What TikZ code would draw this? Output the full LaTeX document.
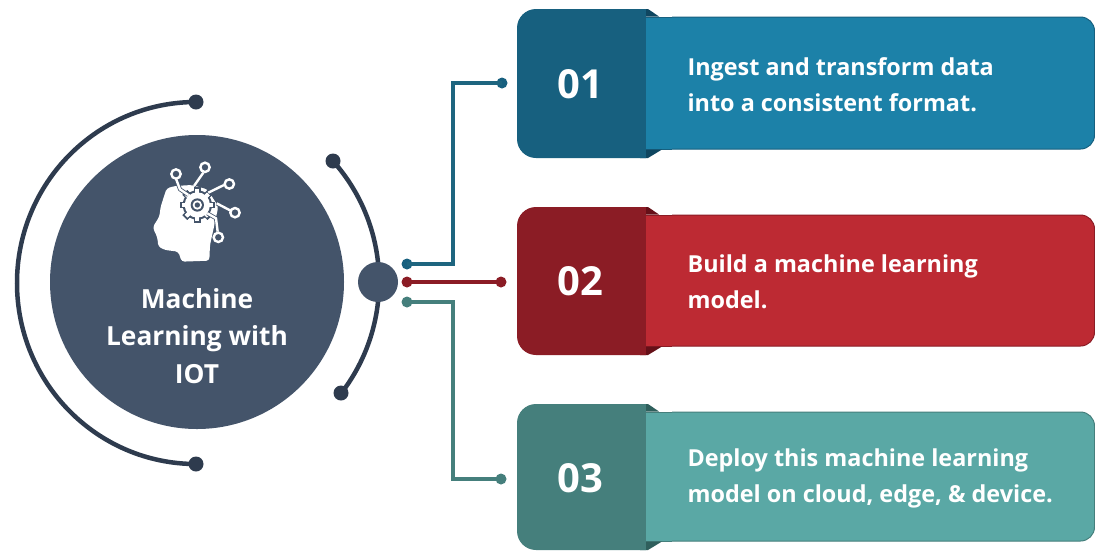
\documentclass[tikz,border=0pt]{standalone}
\usepackage{fontspec}
\setmainfont{Open Sans}
\definecolor{slate}{HTML}{44546A}
\definecolor{arcc}{HTML}{2E3B4E}
\definecolor{bluedark}{HTML}{17607F}
\definecolor{bluelight}{HTML}{1C81A8}
\definecolor{bluefold}{HTML}{0F4660}
\definecolor{reddark}{HTML}{8B1C25}
\definecolor{redlight}{HTML}{BD2A33}
\definecolor{redfold}{HTML}{651018}
\definecolor{teadark}{HTML}{457F7C}
\definecolor{tealight}{HTML}{5AA8A5}
\definecolor{teafold}{HTML}{2F5F5C}
\tikzset{
  px/.style={x=1pt,y=-1pt},
  dotn/.style={circle,inner sep=0pt,minimum size=#1},
  arcline/.style={draw=arcc,line width=4.5pt},
  conn/.style={line width=3.6pt},
  numtxt/.style={text=white,font=\fontsize{40}{44}\selectfont\bfseries},
  bodytxt/.style={text=white,anchor=west,align=left,font=\fontsize{23.4}{36}\selectfont\bfseries},
  titletxt/.style={text=white,align=center,font=\fontsize{26.3}{37.5}\selectfont\bfseries},
  wire/.style={draw=white,line width=2.4pt},
}
\newcommand{\panel}[5]{% top, bottom, dark, light, fold
  \fill[#5] (640,#1) -- (648,#1) -- (659,#1+8) -- (640,#1+8) -- cycle;
  \fill[#5] (640,#2) -- (648,#2) -- (662,#2-9) -- (640,#2-9) -- cycle;
  \draw[#3,line width=1pt,fill=#4,rounded corners=14pt] (630,#1+8) rectangle (1094.5,#2-9);
  \fill[#3,rounded corners=19pt] (517,#1) rectangle (670,#2);
  \fill[#4] (646,#1+8.5) rectangle (672,#2-9.5);
  \fill[white] (646,#1-1) rectangle (672,#1+7.5);
  \fill[white] (646,#2+1) rectangle (672,#2-8.5);
  \fill[#5] (646,#1) -- (648,#1) -- (659,#1+7.5) -- (646,#1+7.5) -- cycle;
  \fill[#5] (646,#2) -- (648,#2) -- (662,#2-8.5) -- (646,#2-8.5) -- cycle;
  \draw[#3,line width=1pt] (659,#1+8) -- (672,#1+8);
  \draw[#3,line width=1pt] (662,#2-9) -- (672,#2-9);
}
\begin{document}
\begin{tikzpicture}[px]
\useasboundingbox (0,0) rectangle (1095,550);
\fill[white] (0,0) rectangle (1095,550);
% arcs
\draw[arcline] (196,102) arc[start angle=-90,end angle=-270,x radius=179,y radius=181];
\draw[arcline] (333,161) arc[start angle=-41.7,end angle=37.6,radius=182];
\node[dotn=15pt,fill=arcc] (arcA) at (196,102) {};
\node[dotn=15pt,fill=arcc] (arcB) at (196,464) {};
\node[dotn=15pt,fill=arcc] (arcC) at (333,161) {};
\node[dotn=15pt,fill=arcc] (arcD) at (341,393) {};
\node[dotn=294pt,fill=slate] (main) at (197,282) {};
\node[dotn=40pt,fill=slate] (hub) at (378,282) {};
% icon
\begin{scope}[shift={(120,150)},x=0.3333pt,y=-0.3333pt]
  \fill[white,rounded corners=3pt] (140,115) -- (165,108) -- (215,105) -- (262,118) -- (295,170) -- (282,230) -- (270,285) -- (268,332) -- (185,335) -- (175,305) -- (135,300) -- (115,290) -- (112,262) -- (98,232) -- (118,200) -- (122,170) -- (135,130) -- cycle;
  \foreach \a in {0,45,...,315}{
    \fill[slate,rotate around={\a:(232,165)}] (222,112) rectangle (242,218);
  }
  \fill[slate] (232,165) circle[radius=44];
  \foreach \a in {0,45,...,315}{
    \fill[white,rotate around={\a:(232,165)}] (226,118) rectangle (238,212);
  }
  \fill[white] (232,165) circle[radius=38];
  \fill[slate] (232,165) circle[radius=20];
  \fill[white] (232,165) circle[radius=14];
  \fill[slate] (232,165) circle[radius=8];
  \draw[slate,line width=4pt] (168,86) -- (180,118) -- (205,135);
  \draw[slate,line width=4pt] (250,68) -- (222,108);
  \draw[slate,line width=4pt] (312,105) -- (265,128);
  \draw[slate,line width=4pt] (332,182) -- (290,160);
  \draw[slate,line width=4pt] (293,245) -- (288,205) -- (262,190);
  \draw[wire] (168,86) -- (180,118) -- (205,135);
  \draw[wire] (250,68) -- (222,108);
  \draw[wire] (312,105) -- (265,128);
  \draw[wire] (332,182) -- (290,160);
  \draw[wire] (293,245) -- (288,205) -- (262,190);
  \foreach \p in {(168,72),(255,52),(328,102),(345,188),(295,262)}{
    \draw[white,line width=2.4pt] \p circle[radius=14];
  }
\end{scope}
\node[titletxt] (title) at (197,336) {Machine\\Learning with\\IOT};
% panels
\panel{9}{158}{bluedark}{bluelight}{bluefold}
\panel{207}{355}{reddark}{redlight}{redfold}
\panel{404}{550}{teadark}{tealight}{teafold}
\node[numtxt] (n1) at (580,84) {01};
\node[numtxt] (n2) at (580,281) {02};
\node[numtxt] (n3) at (580,478) {03};
\node[bodytxt] (t1) at (684,85) {Ingest and transform data\\into a consistent format.};
\node[bodytxt] (t2) at (684,282) {Build a machine learning\\model.};
\node[bodytxt] (t3) at (684,478) {Deploy this machine learning\\model on cloud, edge, \& device.};
% connectors
\node[dotn=11pt,fill=bluedark] (d1a) at (407,264) {};
\node[dotn=11pt,fill=bluedark] (d1b) at (502,83) {};
\node[dotn=11pt,fill=reddark] (d2a) at (407,282) {};
\node[dotn=11pt,fill=reddark] (d2b) at (501,282) {};
\node[dotn=11pt,fill=teadark] (d3a) at (407,302) {};
\node[dotn=11pt,fill=teadark] (d3b) at (501,479) {};
\draw[conn,draw=bluedark!85!teadark] (d1a.center) -- (453,264) -- (453,83) -- (d1b.center);
\draw[conn,draw=reddark] (d2a.center) -- (d2b.center);
\draw[conn,draw=teadark] (d3a.center) -- (453,302) -- (453,479) -- (d3b.center);
\end{tikzpicture}
\end{document}
